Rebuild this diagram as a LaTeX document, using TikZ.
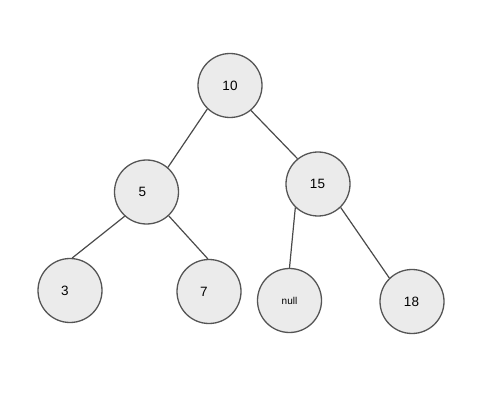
\documentclass[tikz,border=0pt]{standalone}
\usepackage{fontspec}
\setmainfont{Liberation Sans}
\definecolor{nodefill}{HTML}{EBEBEB}
\definecolor{nodeline}{HTML}{555555}
\definecolor{edgeline}{HTML}{4A4A4A}
\begin{document}
\begin{tikzpicture}[x=1pt,y=-1pt,
  tn/.style={circle,draw=nodeline,fill=nodefill,line width=1.3pt,minimum size=64pt,inner sep=0pt,font=\fontsize{13.5}{15}\selectfont},
  lbl/.style={font=\fontsize{13.5}{15}\selectfont,inner sep=0pt},
  edge/.style={draw=edgeline,line width=1.2pt}]
\useasboundingbox (0,0) rectangle (485,417);
\fill[white] (0,0) rectangle (485,417);
\node[tn] (n10) at (230,85.5) {10};
\node[tn,label={[lbl,xshift=-4pt]center:5}] (n5) at (146.5,192) {};
\node[tn] (n15) at (318,184) {\hspace*{-1pt}15};
\node[tn,label={[lbl,xshift=-5pt]center:3}] (n3) at (70,290.5) {};
\node[tn,label={[lbl,xshift=-5pt]center:7}] (n7) at (209,291.5) {};
\node[tn,font=\fontsize{10}{12}\selectfont] (nnull) at (289.5,300.5) {null};
\node[tn] (n18) at (412,301.5) {\hspace*{-1pt}18};
\draw[edge] (n10.226) -- (n5.49);
\draw[edge] (n10.310) -- (n15.129);
\draw[edge] (n5.228) -- (n3.86);
\draw[edge] (n5.313) -- (n7.92);
\draw[edge] (n15.226) -- (nnull.90);
\draw[edge] (n15.314) -- (n18.134);
\end{tikzpicture}
\end{document}
